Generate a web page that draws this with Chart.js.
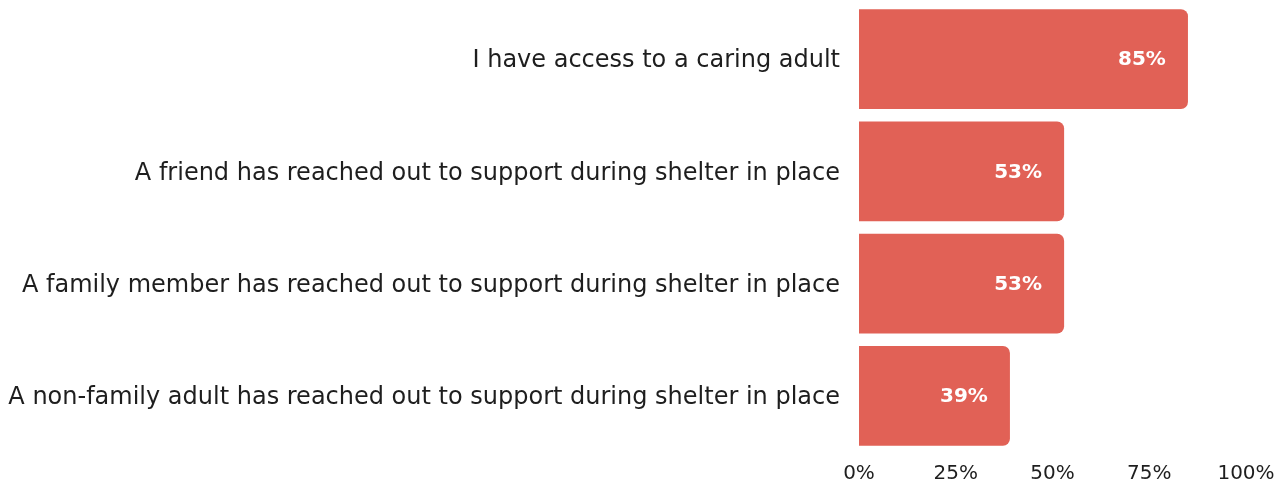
<!DOCTYPE html>
<html>
<head>
<meta charset="utf-8">
<script src="https://cdn.jsdelivr.net/npm/chart.js@4"></script>
<style>
  html, body { margin: 0; padding: 0; background: #fff; }
  #wrap { width: 1286px; height: 484px; }
</style>
</head>
<body>
<div id="wrap"><canvas id="myChart" width="1286" height="484"></canvas></div>
<script>
// data
const categories = [
  'I have access to a caring adult',
  'A friend has reached out to support during shelter in place',
  'A family member has reached out to support during shelter in place',
  'A non-family adult has reached out to support during shelter in place'
];
const values = [85, 53, 53, 39];
const xTicks = [0, 25, 50, 75, 100];

const barColor = '#e16156';
const fontName = "'DejaVu Sans', sans-serif";

// label di dalam bar
const valueLabels = {
  id: 'valueLabels',
  afterDatasetsDraw(chart) {
    const ctx = chart.ctx;
    const meta = chart.getDatasetMeta(0);
    ctx.save();
    ctx.fillStyle = '#fff';
    ctx.font = 'bold 20px ' + fontName;
    ctx.textAlign = 'center';
    ctx.textBaseline = 'middle';
    meta.data.forEach((bar, i) => {
      ctx.fillText(values[i] + '%', bar.x - 46, bar.y + 1);
    });
    ctx.restore();
  }
};

var ctx = document.getElementById('myChart').getContext('2d');
var myChart = new Chart(ctx, {
  type: 'bar',
  data: {
    labels: categories,
    datasets: [{
      data: values,
      backgroundColor: barColor,
      borderRadius: 7,
      borderSkipped: 'start',
      barPercentage: 0.89,
      categoryPercentage: 1
    }]
  },
  options: {
    indexAxis: 'y',
    responsive: false,
    animation: false,
    layout: { padding: { top: 3, right: 40, left: 0, bottom: 0 } },
    plugins: {
      legend: { display: false },
      tooltip: { enabled: false }
    },
    scales: {
      x: {
        min: 0,
        max: 100,
        afterBuildTicks: (s) => { s.ticks = xTicks.map(v => ({ value: v })); },
        afterFit: (s) => { s.height = 32; s.paddingLeft = 0; s.paddingRight = 0; },
        grid: { display: false, drawTicks: false },
        border: { display: false },
        ticks: {
          padding: 10,
          color: '#1e1e1e',
          maxRotation: 0,
          font: { family: fontName, size: 20 },
          callback: (v) => v + '%'
        }
      },
      y: {
        afterFit: (s) => { s.width = 859; s.paddingTop = 0; s.paddingBottom = 0; },
        grid: { display: false, drawTicks: false },
        border: { display: false },
        ticks: {
          padding: 19,
          labelOffset: 2,
          color: '#1e1e1e',
          font: { family: fontName, size: 24 }
        }
      }
    }
  },
  plugins: [valueLabels]
});
</script>
</body>
</html>
